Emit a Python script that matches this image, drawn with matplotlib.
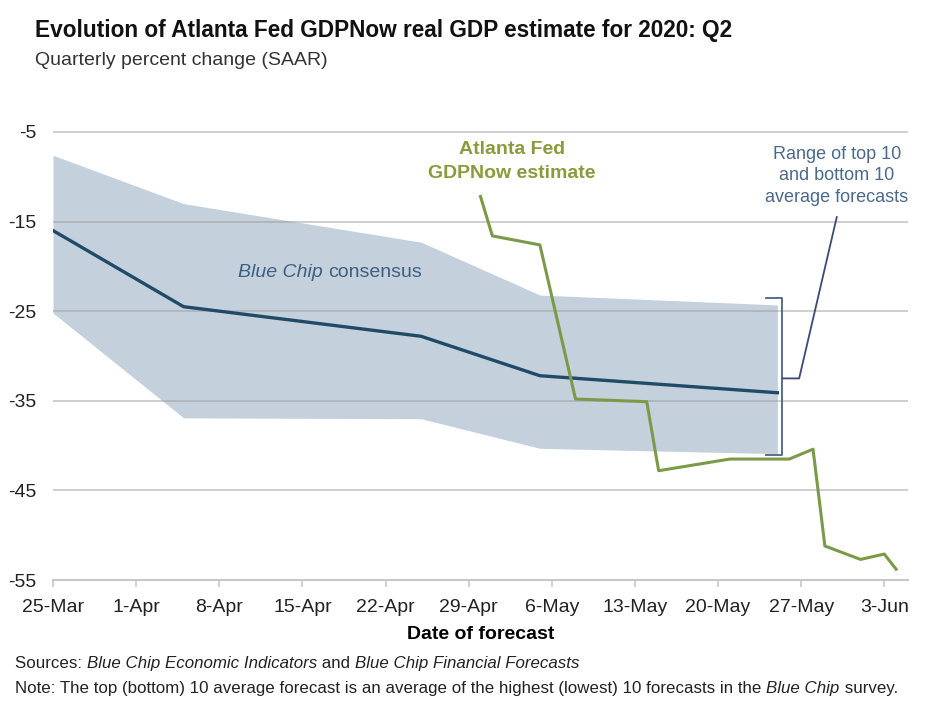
import matplotlib
matplotlib.use("Agg")
import matplotlib.pyplot as plt
import matplotlib.dates as mdates
import pandas as pd

plt.rcParams["font.family"] = ["Liberation Sans", "DejaVu Sans"]

# Blue Chip consensus and range of top/bottom 10 averages
bc_dates = pd.to_datetime(["2020-03-25", "2020-04-05", "2020-04-25", "2020-05-05", "2020-05-25"])
bc_consensus = [-16.0, -24.5, -27.8, -32.2, -34.1]
bc_top10 = [-7.6, -13.0, -17.3, -23.2, -24.3]
bc_bottom10 = [-25.2, -36.9, -37.0, -40.3, -40.9]

# Atlanta Fed GDPNow
gdp_dates = pd.to_datetime(["2020-04-30", "2020-05-01", "2020-05-05", "2020-05-08", "2020-05-14",
                            "2020-05-15", "2020-05-21", "2020-05-26", "2020-05-28", "2020-05-29",
                            "2020-06-01", "2020-06-03", "2020-06-04"])
gdp_now = [-12.2, -16.6, -17.6, -34.8, -35.1, -42.8, -41.5, -41.5, -40.4, -51.2, -52.7, -52.1, -53.8]

y_ticks = [-5, -15, -25, -35, -45, -55]
x_ticks = pd.date_range("2020-03-25", "2020-06-03", freq="7D")

band_col = "#c4d0dc"
navy = "#1f4a68"
green = "#7b9a48"
green_txt = "#8a9b3c"
grid_col = "#a0a0a0"

fig = plt.figure(figsize=(9.5, 7.2), dpi=100)
ax = fig.add_axes([0.0558, 0.1944, 0.9, 0.6472])

ax.fill_between(bc_dates, bc_bottom10, bc_top10, color=band_col, lw=0, zorder=1)
for yv in y_ticks[:-1]:
    ax.axhline(yv, color=grid_col, lw=1.2, alpha=0.6, zorder=1.5)
ax.plot(bc_dates, bc_consensus, color=navy, lw=2.4, zorder=3)
ax.plot(gdp_dates, gdp_now, color=green, lw=2.2, zorder=4)

ax.set_xlim(pd.Timestamp("2020-03-25"), pd.Timestamp("2020-06-05"))
ax.set_ylim(-55, -3)
ax.set_yticks(y_ticks)
ax.set_yticklabels([str(v) for v in y_ticks])
ax.set_xticks(x_ticks)
ax.xaxis.set_major_formatter(mdates.DateFormatter("%-d-%b"))

for s in ["top", "right", "left"]:
    ax.spines[s].set_visible(False)
ax.spines["bottom"].set_color("#c8c8c8")
ax.spines["bottom"].set_linewidth(1.5)
ax.tick_params(axis="y", length=0, pad=12, labelsize=14, labelcolor="#222222")
ax.tick_params(axis="x", length=5, width=1.2, color="#c8c8c8", pad=9, labelsize=14,
               labelcolor="#222222")
ax.set_xlabel("Date of forecast", fontsize=14, fontweight="bold", labelpad=7)

# bracket marking the range
bx = pd.Timestamp("2020-05-25 10:00")
bh = pd.Timestamp("2020-05-24")
bm = pd.Timestamp("2020-05-26 20:00")
ax.plot([bh, bx, bx, bh], [-23.5, -23.5, -41.0, -41.0], color="#4a6580", lw=1.3, zorder=5)
ax.plot([bx, bm, pd.Timestamp("2020-05-30")], [-32.5, -32.5, -14.5], color="#3c4a78", lw=1.3, zorder=5)
ax.text(pd.Timestamp("2020-05-30"), -9.9, "Range of top 10\nand bottom 10\naverage forecasts",
        ha="center", va="center", fontsize=13, color="#4a6a8c", linespacing=1.35)

ax.text(pd.Timestamp("2020-05-02 16:00"), -8.3, "Atlanta Fed\nGDPNow estimate", ha="center",
        va="center", fontsize=14, fontweight="bold", color=green_txt, linespacing=1.55)


def rich(parts, xy, xycoords, **kw):
    renderer = fig.canvas.get_renderer()
    dx = 0.0
    for s, style in parts:
        t = ax.annotate(s, xy=xy, xycoords=xycoords, xytext=(dx, 0), textcoords="offset pixels",
                        style=style, annotation_clip=False, **kw)
        dx += t.get_window_extent(renderer).width


rich([("Blue Chip ", "italic"), ("consensus", "normal")],
     (mdates.date2num(pd.Timestamp("2020-04-09 14:00")), -20.7), "data",
     fontsize=14, color="#3d5f80", va="center")

fig.text(0.0368, 0.958, "Evolution of Atlanta Fed GDPNow real GDP estimate for 2020: Q2",
         fontsize=16.3, fontweight="bold", va="center", color="#111111")
fig.text(0.0368, 0.916, "Quarterly percent change (SAAR)", fontsize=14, va="center", color="#333333")

rich([("Sources: ", "normal"), ("Blue Chip Economic Indicators", "italic"), (" and ", "normal"),
      ("Blue Chip Financial Forecasts", "italic")],
     (0.016, 0.079), "figure fraction", fontsize=12.2, va="center", color="#222222")
rich([("Note: The top (bottom) 10 average forecast is an average of the highest (lowest) 10 forecasts in the ",
       "normal"), ("Blue Chip", "italic"), (" survey.", "normal")],
     (0.016, 0.044), "figure fraction", fontsize=12.2, va="center", color="#222222")

fig.savefig("out.png", dpi=100)
